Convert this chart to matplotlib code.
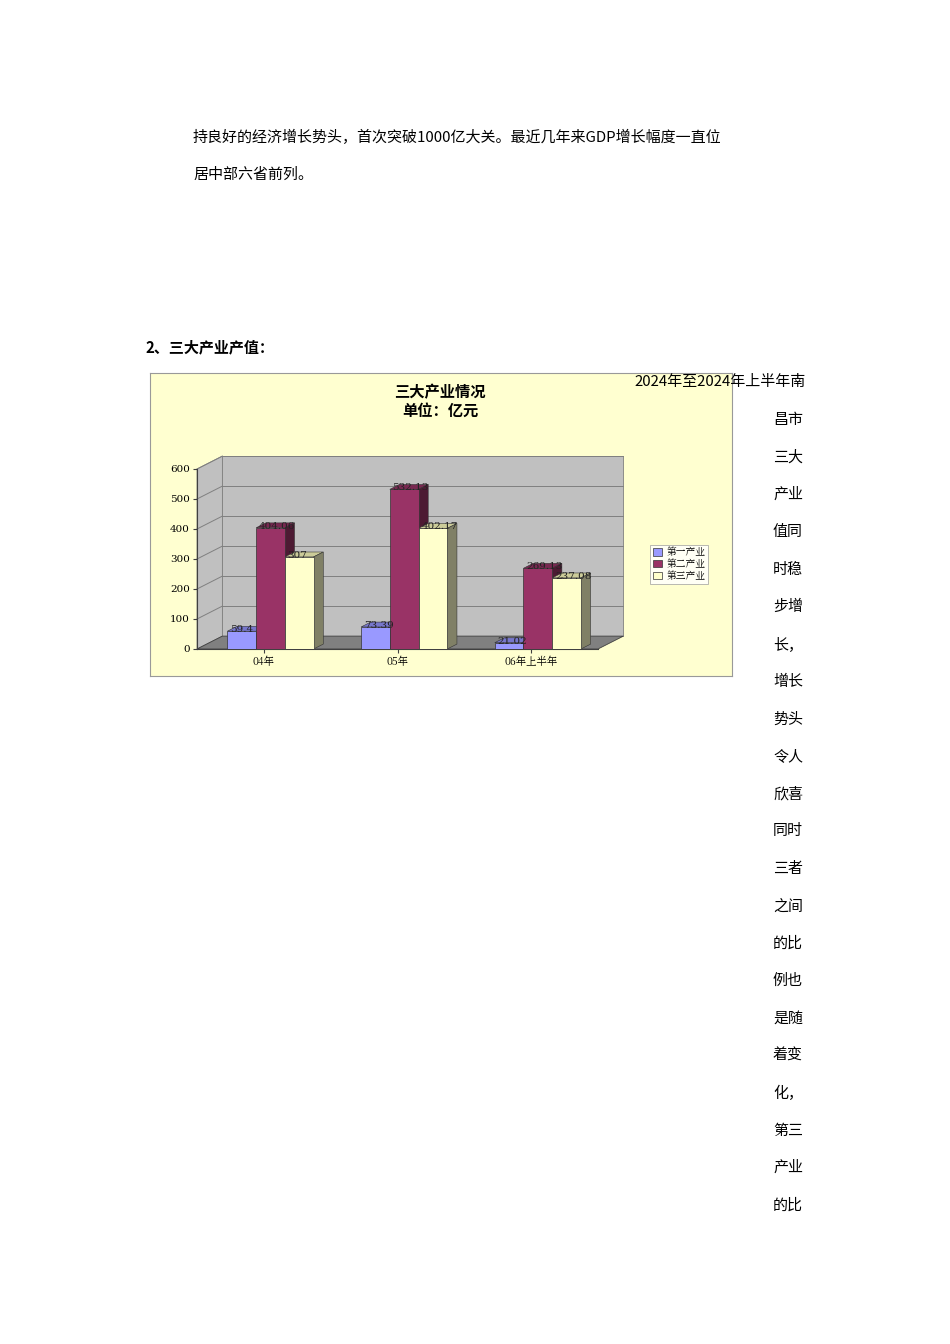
import matplotlib
matplotlib.use("Agg")
import matplotlib.pyplot as plt
from matplotlib.patches import Polygon, Rectangle
import numpy as np

plt.rcParams['font.family'] = ['Noto Sans CJK SC', 'DejaVu Sans']

categories = ["04年", "05年", "06年上半年"]
series_names = ["第一产业", "第二产业", "第三产业"]
primary = [59.4, 73.39, 21.02]
secondary = [404.06, 532.13, 269.13]
tertiary = [307, 402.17, 237.08]
value_labels = [["59.4", "73.39", "21.02"], ["404.06", "532.13", "269.13"], ["307", "402.17", "237.08"]]
yticks = [0, 100, 200, 300, 400, 500, 600]

W, H = 950, 1344
fig = plt.figure(figsize=(9.5, 13.44), dpi=100)
fig.patch.set_facecolor("white")

def ft(x, y, s, **kw):
    fig.text(x / W, 1 - y / H, s, **kw)

fs = 10.8
ft(193, 137, "持良好的经济增长势头，首次突破1000亿大关。最近几年来GDP增长幅度一直位", fontsize=fs, va="center")
ft(193, 175, "居中部六省前列。", fontsize=fs, va="center")
ft(145, 347, "2、三大产业产值：", fontsize=fs, va="center", fontweight="bold")
col = ["昌市", "三大", "产业", "值同", "时稳", "步增", "长，", "增长", "势头", "令人", "欣喜", "同时",
       "三者", "之间", "的比", "例也", "是随", "着变", "化，", "第三", "产业", "的比"]

# chart frame
frame = fig.add_axes([150 / W, 1 - 676 / H, 582 / W, 303 / H])
frame.set_facecolor("#ffffd0")
frame.set_xticks([]); frame.set_yticks([])
for s in frame.spines.values():
    s.set_color("#999999"); s.set_linewidth(0.8)

ft(440, 392, "三大产业情况", fontsize=11, ha="center", va="center", fontweight="bold")
ft(440, 411, "单位：亿元", fontsize=11, ha="center", va="center", fontweight="bold")
ft(806, 382, "2024年至2024年上半年南", fontsize=fs, ha="right", va="center", zorder=10)
for i, t in enumerate(col):
    ft(773, 420 + i * 37.4, t, fontsize=fs, va="center")

ax = fig.add_axes([197 / W, 1 - 649 / H, 401 / W, 180 / H])
ax.set_xlim(-0.5, 2.5)
ax.set_ylim(0, 600)
ax.patch.set_alpha(0)
for s in ax.spines.values():
    s.set_visible(False)
dx, dy = 0.19, 43
x0, x1 = -0.5, 2.5
ax.add_patch(Polygon([(x0 + dx, dy), (x1 + dx, dy), (x1 + dx, 600 + dy), (x0 + dx, 600 + dy)],
                     closed=True, fc="#c0c0c0", ec="#808080", lw=0.6, clip_on=False, zorder=0))
ax.add_patch(Polygon([(x0, 0), (x0 + dx, dy), (x0 + dx, 600 + dy), (x0, 600)],
                     closed=True, fc="#c0c0c0", ec="#808080", lw=0.6, clip_on=False, zorder=0))
ax.add_patch(Polygon([(x0, 0), (x1, 0), (x1 + dx, dy), (x0 + dx, dy)],
                     closed=True, fc="#808080", ec="#404040", lw=0.6, clip_on=False, zorder=0.5))
for t in yticks[1:]:
    ax.plot([x0 + dx, x1 + dx], [t + dy, t + dy], color="#808080", lw=0.7, zorder=0.3, clip_on=False)
    ax.plot([x0, x0 + dx], [t, t + dy], color="#808080", lw=0.7, zorder=0.3, clip_on=False)
ax.plot([x0, x0], [0, 600], color="#404040", lw=0.8, clip_on=False)
ax.plot([x0, x1], [0, 0], color="#404040", lw=0.8, clip_on=False)
ax.set_yticks(yticks)
ax.set_yticklabels([str(t) for t in yticks], fontsize=7.5, family="DejaVu Serif")
ax.set_xticks(range(3))
ax.set_xticklabels(categories, fontsize=7.5, family=["Noto Serif CJK SC", "Noto Sans CJK SC"])
ax.tick_params(length=3, color="#404040", pad=2)

faces = ["#9999ff", "#993366", "#ffffcc"]
tops = ["#7777cc", "#772850", "#cccc99"]
sides = ["#6666aa", "#4d1a33", "#808066"]
bw = 0.215
offs = [-0.165, 0.05, 0.265]
ddx, ddy = dx * 0.38, dy * 0.38
handles = []
for si, vals in enumerate([primary, secondary, tertiary]):
    for ci, v in enumerate(vals):
        xl = ci + offs[si] - bw / 2
        xr = xl + bw
        b = ax.bar(xl, v, width=bw, align="edge", color=faces[si], edgecolor="#333333", lw=0.5, zorder=2 + si * 0 + ci * 0.01)
        ax.add_patch(Polygon([(xl, v), (xr, v), (xr + ddx, v + ddy), (xl + ddx, v + ddy)], closed=True,
                             fc=tops[si], ec="#333333", lw=0.4, zorder=1.9, clip_on=False))
        ax.add_patch(Polygon([(xr, 0), (xr + ddx, ddy), (xr + ddx, v + ddy), (xr, v)], closed=True,
                             fc=sides[si], ec="#333333", lw=0.4, zorder=1.9, clip_on=False))
        ax.text(xl + 0.02, v + 5, value_labels[si][ci], fontsize=7.5, family="DejaVu Serif",
                ha="left", va="center", color="#222222", zorder=5, clip_on=False)
    handles.append(b)

leg = fig.legend(handles, series_names, loc="upper left", bbox_to_anchor=(645 / W, 1 - 540 / H),
                 fontsize=7, frameon=True, fancybox=False, handlelength=0.9, handleheight=0.8,
                 borderpad=0.3, labelspacing=0.2, handletextpad=0.5,
                 prop={"family": ["Noto Serif CJK SC", "Noto Sans CJK SC"], "size": 7})
leg.get_frame().set_edgecolor("#999999")
leg.get_frame().set_linewidth(0.6)

fig.savefig("out.png", dpi=100)
